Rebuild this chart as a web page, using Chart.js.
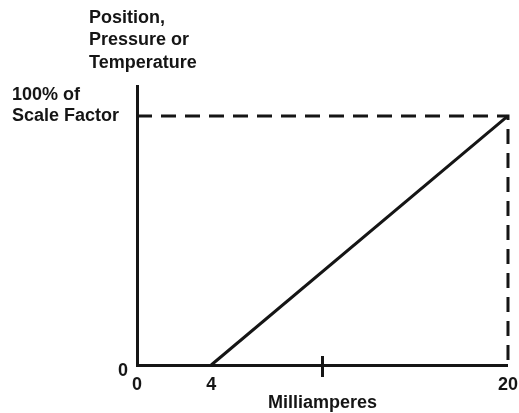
<!DOCTYPE html>
<html>
<head>
<meta charset="utf-8">
<script src="https://cdn.jsdelivr.net/npm/chart.js@4.4.1/dist/chart.umd.min.js"></script>
<style>
	html, body { margin: 0; padding: 0; background: #fff; }
	#box { width: 519px; height: 413px; }
</style>
</head>
<body>
<div id="box"><canvas id="myChart"></canvas></div>
<script>
// dados do grafico (mA -> % da escala)
const miliAmperes = [4, 20];
const porcentagem = [0, 100];
const tracejadoX = [0, 20, 20];
const tracejadoY = [100, 100, 0];
const ticksX = [0, 4, 10, 20];
const rotulosX = ["0", "4", "", "20"];
const ticksY = [0];
const rotulosY = ["0"];
const tituloY = ["Position,", "Pressure or", "Temperature"];
const escalaY = ["100% of", "Scale Factor"];
const tituloX = "Milliamperes";
const marcaMeio = 10;

const fonte = "bold 18px 'Liberation Sans', Arial, sans-serif";
const preto = "#151515";

const pontos = miliAmperes.map((x, i) => ({ x: x, y: porcentagem[i] }));
const tracejado = tracejadoX.map((x, i) => ({ x: x, y: tracejadoY[i] }));

// textos soltos e a marca do meio do eixo x
const textos = {
	id: "textos",
	afterDraw(chart) {
		const c = chart.ctx;
		const x = chart.scales.x;
		const y = chart.scales.y;
		c.save();
		c.fillStyle = preto;
		c.font = fonte;
		c.textBaseline = "middle";
		c.textAlign = "left";
		tituloY.forEach((t, i) => c.fillText(t, 89, 18 + i * 22.5));
		const y100 = y.getPixelForValue(100);
		c.fillText(escalaY[0], 12, y100 - 21);
		c.fillText(escalaY[1], 12, y100);

		const xm = x.getPixelForValue(marcaMeio);
		const base = y.getPixelForValue(0);
		c.strokeStyle = preto;
		c.lineWidth = 3;
		c.beginPath();
		c.moveTo(xm, base - 9);
		c.lineTo(xm, base + 12);
		c.stroke();
		c.restore();
	},
};

const ctx = document.getElementById("myChart");

let grafico = new Chart(ctx, {
	type: "scatter",
	data: {
		datasets: [
			{
				data: pontos,
				showLine: true,
				borderColor: preto,
				borderWidth: 3,
				pointRadius: 0,
				clip: false,
			},
			{
				data: tracejado,
				showLine: true,
				borderColor: preto,
				borderWidth: 3,
				borderDash: [15, 9],
				pointRadius: 0,
				clip: false,
			},
		],
	},
	options: {
		responsive: true,
		maintainAspectRatio: false,
		animation: false,
		layout: {
			padding: { top: 86, right: 0, left: 0, bottom: 0 },
		},
		plugins: {
			legend: { display: false },
			tooltip: { enabled: false },
		},
		scales: {
			x: {
				type: "linear",
				min: 0,
				max: 20,
				afterBuildTicks: (s) => { s.ticks = ticksX.map((v) => ({ value: v })); },
				afterFit: (s) => { s.height = 48; },
				grid: { display: false },
				border: { display: true, color: preto, width: 3 },
				ticks: {
					padding: 1,
					color: preto,
					font: { family: "'Liberation Sans', Arial, sans-serif", size: 18, weight: "bold" },
					maxRotation: 0,
					autoSkip: false,
					callback: (v, i) => rotulosX[i],
				},
				title: {
					display: true,
					text: tituloX,
					color: preto,
					padding: { top: 0, bottom: -1 },
					font: { family: "'Liberation Sans', Arial, sans-serif", size: 18, weight: "bold" },
				},
			},
			y: {
				type: "linear",
				min: 0,
				max: 112,
				afterBuildTicks: (s) => { s.ticks = ticksY.map((v) => ({ value: v })); },
				afterFit: (s) => { s.width = 137; },
				grid: { display: false },
				border: { display: true, color: preto, width: 3 },
				ticks: {
					padding: 1,
					labelOffset: 6,
					color: preto,
					font: { family: "'Liberation Sans', Arial, sans-serif", size: 18, weight: "bold" },
					callback: (v, i) => rotulosY[i],
				},
			},
		},
	},
	plugins: [textos],
});
</script>
</body>
</html>
